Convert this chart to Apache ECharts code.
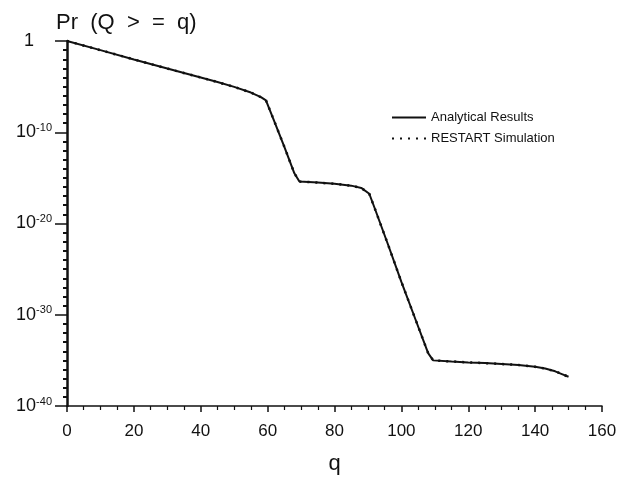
<!DOCTYPE html>
<html>
	<head>
		<meta charset="utf-8">
		<title>Pr (Q >= q)</title>
		<script src="https://cdn.jsdelivr.net/npm/echarts@6/dist/echarts.min.js"></script>
	</head>
	<style type="text/css">
		body { margin: 0; background: #fff; }
		#main { width: 622px; height: 480px; }
	</style>
	<body>
		<div id="main"></div>
		<script type="text/javascript">
			// q values (buffer level)
			var qPoints = [0, 10, 20, 30, 40, 45, 50, 55, 58, 59.5, 62, 65, 68, 69.5,
				75, 80, 85, 88, 90.4, 92, 96, 100, 104, 108, 109.5,
				115, 120, 125, 130, 135, 140, 143, 146, 148, 150];
			// log10 of Pr(Q >= q), analytical curve
			var analyticalExp = [0, -1.0, -2.02, -3.02, -4.0, -4.5, -5.03, -5.65, -6.15, -6.5, -8.8, -11.6, -14.5, -15.4,
				-15.52, -15.65, -15.85, -16.1, -16.74, -18.3, -22.3, -26.4, -30.3, -34.2, -35.0,
				-35.12, -35.22, -35.3, -35.4, -35.5, -35.7, -35.9, -36.2, -36.5, -36.8];
			// RESTART simulation lies on top of the analytical curve
			var restartExp = [0, -1.0, -2.02, -3.02, -4.0, -4.5, -5.03, -5.65, -6.15, -6.5, -8.8, -11.6, -14.5, -15.4,
				-15.52, -15.65, -15.85, -16.1, -16.74, -18.3, -22.3, -26.4, -30.3, -34.2, -35.0,
				-35.12, -35.22, -35.3, -35.4, -35.5, -35.7, -35.9, -36.2, -36.5, -36.8];
			var xTicks = [0, 20, 40, 60, 80, 100, 120, 140, 160];
			var yTickExp = [0, -10, -20, -30, -40];

			function pairs(xs, ys) {
				var out = [];
				for (var i = 0; i < xs.length; i++) out.push([xs[i], ys[i]]);
				return out;
			}

			var font = 'Liberation Sans';
			var ink = '#111';
			var myChart = echarts.init(document.getElementById('main'));
			myChart.setOption({
				animation: false,
				title: {
					text: 'Pr  (Q  >  =  q)',
					left: 51,
					top: 7,
					textStyle: { fontFamily: font, fontSize: 22, fontWeight: 'normal', color: ink }
				},
				legend: {
					orient: 'vertical',
					left: 386,
					top: 106,
					itemWidth: 34,
					itemHeight: 10,
					itemGap: 8,
					itemStyle: { opacity: 0 },
					textStyle: { fontFamily: font, fontSize: 13, color: ink },
					data: ['Analytical Results', 'RESTART Simulation']
				},
				grid: { left: 67, right: 20, top: 41, bottom: 68 },
				xAxis: {
					type: 'value',
					min: xTicks[0],
					max: xTicks[xTicks.length - 1],
					interval: xTicks[1] - xTicks[0],
					name: 'q',
					nameLocation: 'middle',
					nameGap: 47,
					nameTextStyle: { fontFamily: font, fontSize: 22, color: ink },
					axisLine: { onZero: false, lineStyle: { color: ink, width: 1.5 } },
					axisTick: { length: 6, lineStyle: { color: ink, width: 1.5 } },
					minorTick: { show: true, splitNumber: 4, length: 4, lineStyle: { color: ink, width: 1.2 } },
					axisLabel: { margin: 17, fontFamily: font, fontSize: 17, color: ink },
					splitLine: { show: false }
				},
				yAxis: {
					type: 'value',
					min: yTickExp[yTickExp.length - 1],
					max: yTickExp[0],
					interval: 10,
					axisLine: { onZero: false, lineStyle: { color: ink, width: 2.5 } },
					axisTick: { length: 12, lineStyle: { color: ink, width: 1.5 } },
					minorTick: { show: true, splitNumber: 10, length: 4, lineStyle: { color: ink, width: 2 } },
					splitLine: { show: false },
					axisLabel: {
						margin: 15,
						fontFamily: font,
						color: ink,
						formatter: function (v) {
							if (v === 0) return '{one|1}';
							return '{b|10}{s|' + v + '}';
						},
						rich: {
							one: { fontFamily: font, fontSize: 18, color: ink, padding: [0, 18, 0, 0] },
							b: { fontFamily: font, fontSize: 18, color: ink },
							s: { fontFamily: font, fontSize: 11, color: ink, padding: [0, 0, 9, 0] }
						}
					}
				},
				series: [
					{
						name: 'Analytical Results',
						type: 'line',
						symbol: 'none',
						z: 3,
						lineStyle: { color: ink, width: 2 },
						itemStyle: { color: ink },
						data: pairs(qPoints, analyticalExp)
					},
					{
						name: 'RESTART Simulation',
						type: 'line',
						symbol: 'none',
						z: 2,
						lineStyle: { color: ink, width: 2.5, type: [2, 6] },
						itemStyle: { color: ink },
						data: pairs(qPoints, restartExp)
					}
				]
			});
		</script>
	</body>
</html>
